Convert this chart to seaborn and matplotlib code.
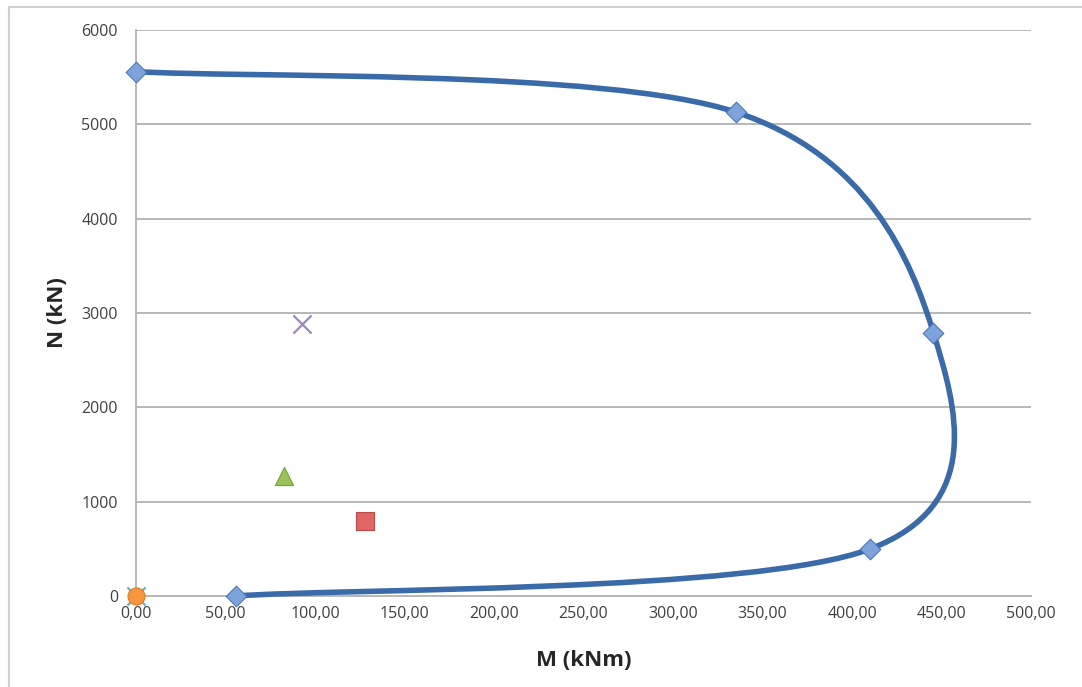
import matplotlib.pyplot as plt
import seaborn as sns
import numpy as np
from matplotlib.path import Path
from matplotlib.patches import PathPatch, Rectangle

# interaction curve points (M in kNm, N in kN)
curve_m = [0.0, 335.0, 445.5, 410.0, 56.0]
curve_n = [5560, 5130, 2790, 498, 0]

# load cases
case_x_m, case_x_n = [92.5], [2880]
case_tri_m, case_tri_n = [82.5], [1272]
case_sq_m, case_sq_n = [128.0], [790]
case_circ_m, case_circ_n = [0.0], [0]
case_star_m, case_star_n = [0.0], [0]

x_ticks = [0, 50, 100, 150, 200, 250, 300, 350, 400, 450, 500]
x_labels = ["0,00", "50,00", "100,00", "150,00", "200,00", "250,00",
            "300,00", "350,00", "400,00", "450,00", "500,00"]
y_ticks = [0, 1000, 2000, 3000, 4000, 5000, 6000]
y_labels = ["0", "1000", "2000", "3000", "4000", "5000", "6000"]

sns.set_style("white")
plt.rcParams['font.family'] = ['Open Sans', 'DejaVu Sans']

fig = plt.figure(figsize=(10.82, 6.87), dpi=100)
ax = fig.add_axes([136 / 1082, 1 - 596 / 687, (1031 - 136) / 1082, (596 - 30) / 687])

# outer chart border (only left / top visible in the screenshot)
fig.add_artist(Rectangle((9 / 1082, -0.1), 1.2, 1 - 7 / 687 + 0.1,
                         transform=fig.transFigure, fill=False,
                         edgecolor="#d0d0d0", linewidth=1.5))

# smoothed line (Excel style, Catmull-Rom as cubic Bezier)
pts = np.column_stack([curve_m, curve_n]).astype(float)
padded = np.vstack([pts[:1], pts, pts[-1:]])
verts = [pts[0]]
codes = [Path.MOVETO]
for i in range(1, len(pts)):
    p_prev, p0, p1, p_next = padded[i - 1], padded[i], padded[i + 1], padded[i + 2]
    c1 = p0 + (p1 - p_prev) / 6
    c2 = p1 - (p_next - p0) / 6
    verts += [c1, c2, p1]
    codes += [Path.CURVE4] * 3
ax.add_patch(PathPatch(Path(verts, codes), fill=False, edgecolor="#3b6aa8",
                       linewidth=4.0, capstyle="round", zorder=3, clip_on=False))

sns.scatterplot(x=curve_m, y=curve_n, ax=ax, marker="D", s=110,
                color="#7ea2dc", edgecolor="#4a77b4", linewidth=0.8,
                zorder=4, clip_on=False)
sns.scatterplot(x=case_x_m, y=case_x_n, ax=ax, marker="x", s=170,
                color="#9a88bf", linewidth=1.6, zorder=4)
sns.scatterplot(x=case_tri_m, y=case_tri_n, ax=ax, marker="^", s=170,
                color="#9bc35a", edgecolor="#76a03c", linewidth=0.8, zorder=4)
sns.scatterplot(x=case_sq_m, y=case_sq_n, ax=ax, marker="s", s=150,
                color="#e06666", edgecolor="#b94a48", linewidth=0.8, zorder=4)
sns.scatterplot(x=case_star_m, y=case_star_n, ax=ax, marker="x", s=170,
                color="#5bb4cf", linewidth=1.6, zorder=4, clip_on=False)
sns.scatterplot(x=case_circ_m, y=case_circ_n, ax=ax, marker="o", s=150,
                color="#f6963f", edgecolor="#e07b25", linewidth=0.8,
                zorder=5, clip_on=False)

ax.set_xlim(0, 500)
ax.set_ylim(0, 6000)
ax.set_xticks(x_ticks)
ax.set_xticklabels(x_labels)
ax.set_yticks(y_ticks)
ax.set_yticklabels(y_labels)
ax.tick_params(axis="both", length=0, labelsize=11.5, labelcolor="#404040")
ax.tick_params(axis="y", pad=13)
ax.tick_params(axis="x", pad=7)

ax.yaxis.grid(True, color="#b8b8b8", linewidth=1.4)
ax.xaxis.grid(False)
ax.set_axisbelow(True)
sns.despine(ax=ax, top=True, right=True)
for side in ["left", "bottom"]:
    ax.spines[side].set_color("#b8b8b8")
    ax.spines[side].set_linewidth(1.4)

ax.set_xlabel("M (kNm)", fontsize=16, fontweight="bold", labelpad=20)
ax.set_ylabel("N (kN)", fontsize=16, fontweight="bold", labelpad=10)

fig.savefig("out.png", dpi=100)
